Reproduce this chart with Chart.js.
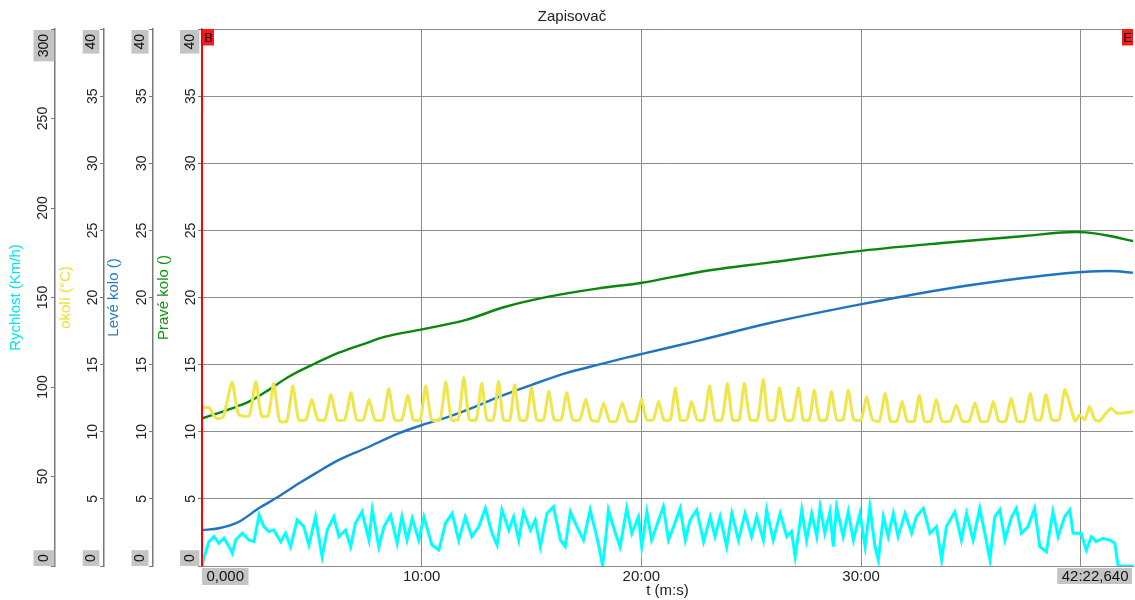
<!DOCTYPE html>
<html><head><meta charset="utf-8">
<script src="https://cdn.jsdelivr.net/npm/chart.js@4.4.1/dist/chart.umd.min.js"></script>
<style>html,body{margin:0;padding:0;background:#fff;overflow:hidden}#wrap{width:1135px;height:600px}</style>
</head><body><div id="wrap"><canvas id="c" width="1135" height="600"></canvas></div>
<script>
// ---------- texts ----------
const chartTitle = 'Zapisovač';
const xTitle = 't (m:s)';
const axisTitles = ['Rychlost (Km/h)', 'okolí (°C)', 'Levé kolo ()', 'Pravé kolo ()'];

// ---------- axes ----------
const tMax = 2542.64;                       // seconds (42:22,640)
const xTickValues = [0, 600, 1200, 1800, 2400, 2542.64];
const xHiddenTicks = [2400];                 // covered by the end label
const speedRange = [0, 300, 50];
const tempRange = [0, 40, 5];
const wheelRange = [0, 40, 5];

// ---------- series: [time s, value] ----------
const speed = [[0,0],[5,4.5],[19,13.6],[33,16.4],[46,12.7],[60,15.5],[74,10.8],[83,7.1],[92,14.5],[110,18.3],[128,14.5],[142,13.6],[156,28.5],[169,22.0],[183,19.2],[196,20.1],[215,13.6],[228,18.3],[242,10.8],[260,25.7],[278,22.0],[292,11.7],[310,27.5],[328,5.2],[342,20.1],[360,27.5],[374,16.4],[392,20.1],[406,10.8],[419,23.9],[437,30.3],[456,14.5],[465,31.3],[483,10.8],[497,22.0],[515,28.5],[533,12.7],[546,27.5],[560,14.5],[574,26.6],[592,14.5],[606,27.5],[628,11.7],[647,8.9],[665,23.9],[683,29.4],[701,14.5],[719,27.5],[737,16.4],[756,22.0],[774,32.2],[792,18.3],[806,11.7],[819,31.3],[838,20.1],[851,27.5],[865,14.5],[878,30.3],[897,20.1],[910,25.7],[924,10.8],[942,29.4],[960,33.1],[979,14.5],[992,10.8],[1006,30.3],[1024,22.0],[1042,14.5],[1060,31.3],[1078,16.4],[1086,8.9],[1094,0],[1102,14.5],[1110,31.3],[1129,18.3],[1142,10.8],[1160,32.2],[1174,18.3],[1192,27.5],[1201,10.8],[1215,30.3],[1228,14.5],[1247,25.7],[1260,33.1],[1274,14.5],[1288,22.0],[1306,32.2],[1320,14.5],[1333,25.7],[1351,31.3],[1370,13.6],[1388,27.5],[1401,16.4],[1415,27.5],[1433,10.8],[1447,29.4],[1465,14.5],[1483,29.4],[1501,16.4],[1515,27.5],[1533,14.5],[1542,31.3],[1560,14.5],[1579,29.4],[1597,16.4],[1610,19.2],[1620,5.2],[1638,31.3],[1651,14.5],[1665,29.4],[1679,16.4],[1688,33.1],[1701,18.3],[1715,30.3],[1724,10.8],[1733,33.1],[1751,16.4],[1765,30.3],[1779,14.5],[1797,29.4],[1811,10.8],[1824,33.1],[1838,10.8],[1847,3.4],[1861,27.5],[1874,16.4],[1888,29.4],[1901,16.4],[1920,29.4],[1938,18.3],[1951,27.5],[1970,32.2],[1988,18.3],[2006,22.0],[2020,3.4],[2033,22.0],[2056,30.3],[2074,14.5],[2088,29.4],[2106,14.5],[2124,32.2],[2138,18.3],[2152,3.4],[2165,27.5],[2179,31.3],[2193,14.5],[2211,27.5],[2224,32.2],[2238,18.3],[2256,22.0],[2274,32.2],[2288,10.8],[2306,8.0],[2324,30.3],[2338,16.4],[2356,27.5],[2370,31.3],[2379,18.3],[2401,18.3],[2415,8.9],[2429,16.4],[2442,13.6],[2461,15.5],[2479,14.5],[2493,12.7],[2502,0],[2543,0]];

const temp = [[0,11.8],[19,11.8],[30,11.3],[40,11.0],[58,11.1],
[82,13.7],[100,11.3],[129,11.2],[147,13.75],[162,11.2],[181,11.2],[196,13.6],[212,10.8],[232,10.8],
[248,13.4],[264,10.9],[284,10.9],[300,12.4],[316,10.9],[336,10.9],[352,12.75],[369,10.9],[390,10.9],
[407,12.9],[422,10.9],[441,10.9],[456,12.4],[472,10.9],[494,10.9],[510,13.2],[526,10.9],[546,10.9],
[562,12.7],[577,10.9],[596,10.9],[611,13.4],[627,10.9],[650,10.9],[666,13.7],[681,10.9],[700,10.9],
[715,14.05],[730,10.9],[749,10.9],[764,13.6],[778,10.9],[796,10.9],[810,13.75],[823,10.9],[841,10.9],
[854,13.5],[868,10.9],[886,10.9],[900,13.3],[914,10.9],[933,10.9],[947,13.0],[962,10.9],[981,10.9],
[996,12.9],[1012,10.9],[1032,10.9],[1048,12.4],[1063,10.9],[1082,10.8],[1097,12.15],[1113,10.8],[1132,10.8],
[1148,12.15],[1164,10.8],[1184,10.8],[1200,12.4],[1214,10.9],[1233,10.9],[1247,12.25],[1261,10.9],[1279,10.9],
[1293,13.25],[1306,10.9],[1324,10.9],[1337,12.25],[1352,10.9],[1371,10.9],[1386,13.4],[1401,10.9],[1420,10.9],
[1435,13.6],[1449,10.9],[1467,10.9],[1481,13.6],[1497,10.9],[1517,10.9],[1533,13.9],[1546,10.9],[1564,10.9],
[1577,13.25],[1593,10.9],[1613,10.9],[1629,13.25],[1642,10.9],[1659,10.9],[1672,13.1],[1686,10.9],[1705,10.9],
[1719,13.0],[1733,10.9],[1751,10.9],[1765,13.1],[1780,10.9],[1800,10.9],[1815,12.6],[1831,10.9],[1850,10.8],
[1866,12.85],[1880,10.8],[1898,10.8],[1912,12.25],[1926,10.8],[1945,10.8],[1959,12.7],[1973,10.8],[1991,10.8],
[2005,12.4],[2021,10.8],[2044,10.8],[2060,12.0],[2076,10.8],[2095,10.8],[2111,12.15],[2126,10.8],[2146,10.8],
[2161,12.25],[2176,10.8],[2195,10.8],[2210,12.5],[2226,10.8],[2246,10.8],[2262,12.85],[2276,10.9],[2291,10.9],
[2305,12.75],[2321,10.9],[2341,10.9],[2357,13.15],
[2384,10.8],[2397,11.25],[2411,10.9],[2424,11.9],[2438,10.9],[2452,10.8],[2465,11.25],[2483,11.75],[2497,11.4],[2515,11.4],[2543,11.5]];

const leftWheel = [[0,2.68],[46,2.81],[101,3.3],[155,4.3],[201,5.04],[265,6.16],[310,6.9],[374,7.9],[447,8.77],[537,9.88],[601,10.5],[674,11.12],[747,11.87],[810,12.59],[901,13.5],[992,14.35],[1083,15.0],[1156,15.5],[1202,15.8],[1362,16.83],[1548,18.08],[1805,19.52],[2014,20.56],[2200,21.3],[2340,21.75],[2405,21.9],[2479,21.97],[2543,21.85]];

const rightWheel = [[0,11.0],[82,11.75],[128,12.24],[174,12.98],[237,14.1],[310,15.1],[374,15.89],[447,16.59],[501,17.08],[601,17.63],[719,18.32],[829,19.31],[947,20.06],[1083,20.68],[1202,21.1],[1362,21.92],[1548,22.6],[1805,23.49],[2014,24.04],[2247,24.58],[2386,24.88],[2414,24.85],[2479,24.58],[2543,24.2]];

// ---------- style ----------
const FONT = '"Liberation Sans", Arial, sans-serif';
const colors = { speed:'#00ffff', temp:'#eee64a', left:'#1f74bf', right:'#0a870a',
  speedTitle:'#00e5ee', tempTitle:'#f0e030', leftTitle:'#2a7cc6', rightTitle:'#129412' };
const gridColor = '#8c8c8c';
const endBox = [[21.5,0.7],[21.3,4.6],[21.5,4.5],[22,2.6]];   // y end-label boxes, offsets from axis line

Chart.defaults.font.family = FONT;

function mmss(sec){ const m=Math.floor(sec/60), s=Math.round(sec-m*60); return m+':'+String(s).padStart(2,'0'); }
function fmtEnd(sec){ const ms=Math.round(sec*1000), m=Math.floor(ms/60000), s=Math.floor((ms%60000)/1000), f=String(ms%1000).padStart(3,'0');
  return m>0 ? m+':'+String(s).padStart(2,'0')+','+f : s+','+f; }
const pts = arr => arr.map(p => ({x:p[0], y:p[1]}));

function yAxis(weight, range, title, tcolor, grid, pad, titlePad){
  const [mn,mx,st] = range;
  return {
    type:'linear', position:'left', weight, min:mn, max:mx,
    ticks:{ stepSize:st, autoSkip:false, minRotation:90, maxRotation:90, crossAlign:'center', padding:pad,
      color:'#222', font:{size:14}, callback:v => (v===mn||v===mx) ? '' : String(v) },
    grid:{ drawOnChartArea:grid, color:gridColor, lineWidth:1, tickLength:4, tickColor:'#777', tickWidth:1 },
    border:{ display:true, color:'#787878', width:1.5 },
    title:{ display:true, text:title, color:tcolor, font:{size:15}, padding:{top:titlePad, bottom:0} },
    afterFit: s => { s.width = 49; }
  };
}

const overlay = {
  id:'overlay',
  afterDraw(chart){
    const ctx = chart.ctx, xs = chart.scales.x, ca = chart.chartArea;
    ctx.save();
    ctx.setTransform(1,0,0,1,0,0);
    // begin cursor (red line)
    const xb = Math.round(xs.getPixelForValue(xs.min));
    ctx.strokeStyle = '#ff0000'; ctx.lineWidth = 2;
    ctx.beginPath(); ctx.moveTo(xb, ca.top); ctx.lineTo(xb, ca.bottom); ctx.stroke();
    // markers B / E
    const mk = (x0, letter) => {
      ctx.fillStyle = '#ff1a1a'; ctx.fillRect(x0, ca.top, 11, 16.5);
      ctx.fillStyle = '#000'; ctx.font = '13px '+FONT; ctx.textAlign='center'; ctx.textBaseline='middle';
      ctx.fillText(letter, x0+5.5, ca.top+9);
    };
    mk(xb+1, 'B');
    mk(Math.round(xs.getPixelForValue(xs.max)) - 11, 'E');
    // y end labels
    ['yR','yT','yL','yP'].forEach((id, i) => {
      const s = chart.scales[id];
      [[s.max, true],[s.min, false]].forEach(([val, top]) => {
        const txt = String(val);
        ctx.font = '14px '+FONT;
        const len = ctx.measureText(txt).width + 8;
        const x0 = s.right - endBox[i][0], x1 = s.right - endBox[i][1];
        const y0 = top ? s.top + 1 : s.bottom - len;
        ctx.fillStyle = '#c4c4c4'; ctx.fillRect(x0, y0, x1-x0, len);
        ctx.save(); ctx.translate((x0+x1)/2 + 0.5, y0 + len/2); ctx.rotate(-Math.PI/2);
        ctx.fillStyle = '#111'; ctx.textAlign='center'; ctx.textBaseline='middle'; ctx.fillText(txt, 0, 0);
        ctx.restore();
      });
    });
    // x end labels
    ctx.font = '15px '+FONT; ctx.textBaseline='middle';
    const t0 = fmtEnd(xs.min), t1 = fmtEnd(xs.max);
    const w0 = ctx.measureText(t0).width, w1 = ctx.measureText(t1).width;
    const L = xs.left, R = Math.min(xs.right, chart.width) - 1;
    ctx.fillStyle = '#c4c4c4';
    ctx.fillRect(L, ca.bottom + 2, w0 + 9, 17);
    ctx.fillRect(R - w1 - 8, ca.bottom + 2, w1 + 8, 16);
    ctx.fillStyle = '#111';
    ctx.textAlign='left'; ctx.fillText(t0, L + 4.5, ca.bottom + 11);
    ctx.textAlign='right'; ctx.fillText(t1, R - 3.5, ca.bottom + 11);
    ctx.restore();
  }
};

new Chart(document.getElementById('c'), {
  type:'line',
  data:{ datasets:[
    { label:axisTitles[1], data:pts(temp), yAxisID:'yT', borderColor:colors.temp, borderWidth:3, pointRadius:0, tension:0.2, order:1 },
    { label:axisTitles[0], data:pts(speed), yAxisID:'yR', borderColor:colors.speed, borderWidth:3, pointRadius:0, tension:0, order:2 },
    { label:axisTitles[2], data:pts(leftWheel), yAxisID:'yL', borderColor:colors.left, borderWidth:2.4, pointRadius:0, cubicInterpolationMode:'monotone', order:3 },
    { label:axisTitles[3], data:pts(rightWheel), yAxisID:'yP', borderColor:colors.right, borderWidth:2.4, pointRadius:0, cubicInterpolationMode:'monotone', order:4 }
  ]},
  options:{
    responsive:false, animation:false, devicePixelRatio:1,
    layout:{ padding:{ left:6, right:-3, top:0, bottom:0 } },
    plugins:{
      legend:{display:false}, tooltip:{enabled:false},
      title:{ display:true, text:chartTitle, color:'#222', font:{size:15, weight:'normal'}, padding:{top:8, bottom:3} }
    },
    scales:{
      x:{ type:'linear', position:'bottom', min:0, max:tMax,
        afterBuildTicks: s => { s.ticks = xTickValues.map(v => ({value:v})); },
        ticks:{ autoSkip:false, maxRotation:0, padding:2, color:'#222', font:{size:15},
          callback: v => (v===0 || v===tMax || xHiddenTicks.includes(v)) ? '' : mmss(v) },
        grid:{ drawTicks:false, color: c => (c.tick && (c.tick.value===0 || c.tick.value===tMax)) ? 'rgba(0,0,0,0)' : gridColor, lineWidth:1 },
        border:{ display:true, color:gridColor },
        title:{ display:true, text:xTitle, color:'#222', font:{size:15}, padding:{top:0, bottom:0} },
        afterFit: s => { s.height = 34; }
      },
      yR: yAxis(4, speedRange, axisTitles[0], colors.speedTitle, false, -4, 1),
      yT: yAxis(3, tempRange, axisTitles[1], colors.tempTitle, false, -1, 1.7),
      yL: yAxis(2, wheelRange, axisTitles[2], colors.leftTitle, false, -1, 1),
      yP: yAxis(1, wheelRange, axisTitles[3], colors.rightTitle, true, -1, 2)
    }
  },
  plugins:[overlay]
});
</script></body></html>
